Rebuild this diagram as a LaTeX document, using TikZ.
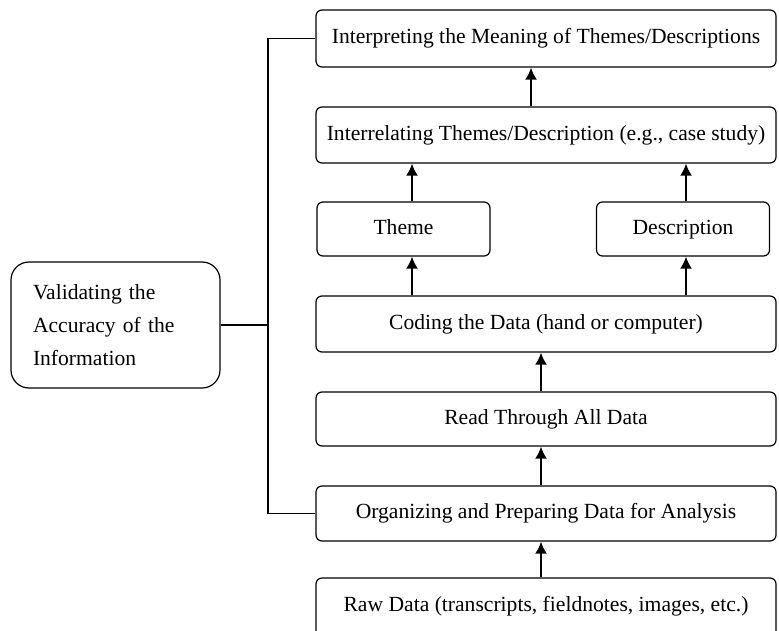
\documentclass[tikz,border=0pt]{standalone}
\usepackage{fontspec}
\setmainfont{Liberation Serif}
\usetikzlibrary{arrows.meta,positioning,calc}
\tikzstyle{block} = [rectangle, draw, line width=0.6pt, rounded corners=3pt,
  text centered, inner sep=0pt, text height=8pt, text depth=2.6pt,
  font=\fontsize{10.8}{13}\selectfont]
\tikzstyle{wide} = [block, minimum width=230pt, minimum height=28pt]
\tikzstyle{small} = [block, minimum width=86.5pt, minimum height=27pt]
\tikzstyle{line} = [draw, line width=1pt, color=black, -{Latex[length=6pt,width=6pt]}]
\tikzstyle{bracket} = [draw, line width=0.6pt, color=black]

\begin{document}
\begin{tikzpicture}[x=0.5pt,y=-0.5pt]
  \useasboundingbox (0,0) rectangle (779,630);

  %%%%%%%%%%%%%%%%%%%%%%%%%%%%%%%%%%%%%%%%%%%%%%%%%%%%%%%%%%%%%%
  %                     MAIN COLUMN                            %
  %%%%%%%%%%%%%%%%%%%%%%%%%%%%%%%%%%%%%%%%%%%%%%%%%%%%%%%%%%%%%%

  \node [wide, minimum height=28.5pt] at (546,38.5) (interp) {Interpreting the Meaning of Themes/Descriptions};
  \node [wide] at (546,135) (interrel) {Interrelating Themes/Description (e.g., case study)};
  \node [small] at (403.5,229) (theme) {Theme};
  \node [small] at (683,229) (descr) {Description};
  \node [wide] at (546,324) (coding) {Coding the Data (hand or computer)};
  \node [wide, minimum height=27pt] at (546,419) (read) {Read Through All Data};
  \node [wide, minimum height=27.5pt] at (546,513.5) (organ) {Organizing and Preparing Data for Analysis};
  \node [wide, minimum height=31pt] at (546,609) (raw) {\raisebox{1.5pt}{Raw Data (transcripts, fieldnotes, images, etc.)}};

  % arrows
  \draw[line] ([xshift=-2.5pt]raw.north) -- ([xshift=-2.5pt]organ.south);
  \draw[line] ([xshift=-2.5pt]organ.north) -- ([xshift=-2.5pt]read.south);
  \draw[line] ([xshift=-2.5pt]read.north) -- ([xshift=-2.5pt]coding.south);
  \draw[line] ([xshift=4.25pt]theme.south |- coding.north) -- ([xshift=4.25pt]theme.south);
  \draw[line] ([xshift=1.5pt]descr.south |- coding.north) -- ([xshift=1.5pt]descr.south);
  \draw[line] ([xshift=4.25pt]theme.north) -- ([xshift=4.25pt]theme.north |- interrel.south);
  \draw[line] ([xshift=1.5pt]descr.north) -- ([xshift=1.5pt]descr.north |- interrel.south);
  \draw[line] ([xshift=-7.5pt]interrel.north) -- ([xshift=-7.5pt]interp.south);

  %%%%%%%%%%%%%%%%%%%%%%%%%%%%%%%%%%%%%%%%%%%%%%%%%%%%%%%%%%%%%%
  %                     VALIDATION                             %
  %%%%%%%%%%%%%%%%%%%%%%%%%%%%%%%%%%%%%%%%%%%%%%%%%%%%%%%%%%%%%%

  \node [block, rounded corners=9pt,
    minimum width=104.5pt,
    minimum height=63pt,
    text width=82.5pt,
    text height=, text depth=,
    align=left,
    font=\fontsize{10.8}{16.5}\selectfont] at (115.5,325) (valid) {Validating the\\Accuracy of the\\Information};
  \coordinate (brk) at (268,325);
  \draw[bracket] (interp.west) -- (interp.west -| brk) -- (organ.west -| brk) -- (organ.west);
  \draw[bracket] (valid.east) -- (valid.east -| brk);

\end{tikzpicture}
\end{document}
